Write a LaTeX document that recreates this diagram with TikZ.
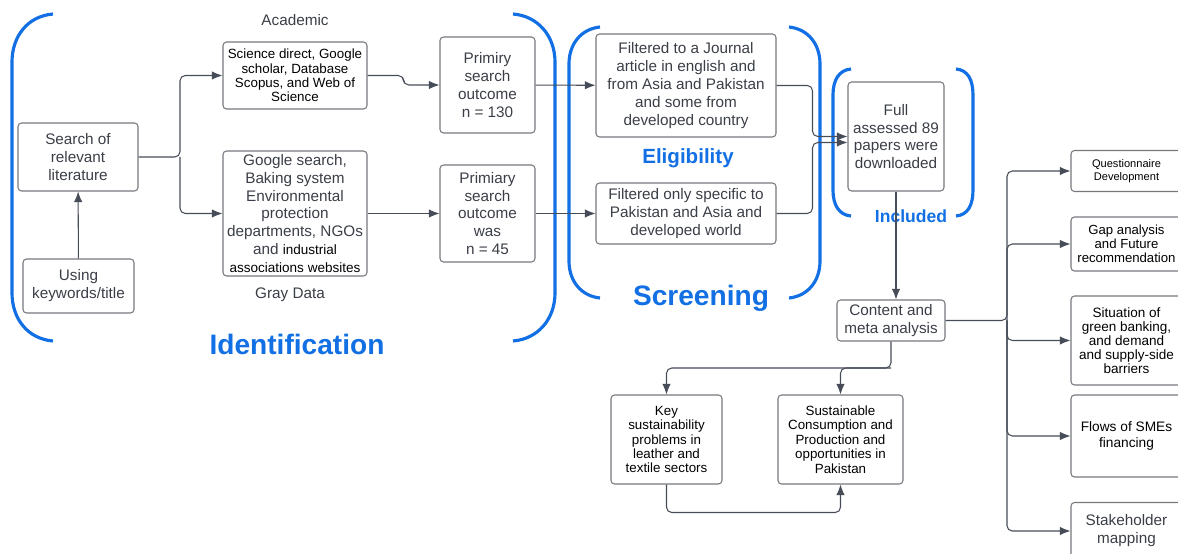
\documentclass[tikz,border=0pt]{standalone}
\usepackage{fontspec}
\setmainfont{Liberation Sans}
\usetikzlibrary{arrows.meta}

\definecolor{lcblue}{RGB}{18,112,228}
\definecolor{txtgray}{RGB}{58,62,70}
\definecolor{edgegray}{RGB}{118,120,126}
\definecolor{arrgray}{RGB}{70,76,88}

\newcommand{\bodyfont}{\fontsize{8.7}{10.2}\selectfont}
\newcommand{\smallfont}{\fontsize{7.6}{8.2}\selectfont}

\begin{document}
\begin{tikzpicture}[x=0.02cm,y=-0.02cm,>=Latex,
  box/.style={draw=edgegray,rounded corners=2pt,line width=0.6pt,align=center,inner sep=1pt,text=txtgray,font=\bodyfont},
  sbox/.style={box,text=black,font=\smallfont},
  link/.style={draw=arrgray,line width=0.6pt,rounded corners=3pt,-{Latex[length=6pt,width=4.8pt]}},
  brk/.style={draw=lcblue,line width=1.8pt},
  stage/.style={text=lcblue,inner sep=0pt},
  side/.style={text=txtgray,font=\bodyfont,inner sep=0pt}]
\useasboundingbox (0,0) rectangle (1178,554);

% blue brackets
\draw[brk] (53,14) .. controls (28,16) and (12,36) .. (12,62) -- (12,293) .. controls (12,319) and (28,339) .. (53,341);
\draw[brk] (513,14) .. controls (538,16) and (555,36) .. (555,62) -- (555,293) .. controls (555,319) and (538,339) .. (513,341);
\draw[brk] (600,27) .. controls (581,29) and (569,44) .. (569,64) -- (569,261) .. controls (569,281) and (581,296) .. (600,298);
\draw[brk] (789,27) .. controls (808,29) and (820,44) .. (820,64) -- (820,261) .. controls (820,281) and (808,296) .. (789,298);
\draw[brk] (851,69) .. controls (839,70) and (833,80) .. (833,95) -- (833,190) .. controls (833,205) and (839,215) .. (851,216);
\draw[brk] (956,69) .. controls (968,70) and (973,80) .. (973,95) -- (973,190) .. controls (973,205) and (968,215) .. (956,216);

% identification
\node[box,minimum width=2.4cm,minimum height=1.36cm] (srch) at (78,157) {Search of\\relevant\\literature};
\node[box,minimum width=2.22cm,minimum height=1.08cm] (kw) at (78.5,286) {Using\\keywords/title};
\node[sbox,minimum width=2.88cm,minimum height=1.34cm] (acad) at (295,75.5) {Science direct, Google\\scholar, Database\\Scopus, and Web of\\Science};
\node[box,minimum width=2.88cm,minimum height=2.5cm] (gray) at (295,213.5) {Google search,\\Baking system\\Environmental\\protection\\departments, NGOs\\and {\color{black}\fontsize{7.7}{9}\selectfont industrial}\\{\color{black}\fontsize{7.7}{9}\selectfont associations websites}};
\node[box,minimum width=1.9cm,minimum height=1.92cm] (out1) at (487.5,85) {Primiry\\search\\outcome\\n = 130};
\node[box,minimum width=1.9cm,minimum height=1.94cm] (out2) at (487.5,213.5) {Primiary\\search\\outcome\\was\\n = 45};
\node[side] (acl) at (295,20) {Academic};
\node[side] (gdl) at (290,295) {Gray Data};
\node[stage,font=\bfseries\fontsize{16}{18}\selectfont] (idl) at (297,344) {Identification};

% screening
\node[box,minimum width=3.6cm,minimum height=2.06cm] (flt1) at (686,85.5) {Filtered to a Journal\\article in english and\\from Asia and Pakistan\\and some from\\developed country};
\node[box,minimum width=3.6cm,minimum height=1.22cm] (flt2) at (686,213.5) {Filtered only specific to\\Pakistan and Asia and\\developed world};
\node[stage,font=\bfseries\fontsize{11.7}{14}\selectfont] (ell) at (688,158) {Eligibility};
\node[stage,font=\bfseries\fontsize{16}{18}\selectfont] (scl) at (701,298) {Screening};

% included
\node[box,minimum width=1.92cm,minimum height=2.18cm] (full) at (896,136.5) {Full\\assessed 89\\papers were\\downloaded};
\node[box,minimum width=2.16cm,minimum height=0.82cm] (meta) at (891,320.5) {Content and\\meta analysis};

% outcomes
\node[sbox,minimum width=2.22cm,minimum height=1.78cm] (key) at (666.5,439.5) {Key\\sustainability\\problems in\\leather and\\textile sectors};
\node[sbox,minimum width=2.5cm,minimum height=1.78cm] (scp) at (840.5,439.5) {Sustainable\\Consumption and\\Production and\\opportunities in\\Pakistan};
\node[sbox,font=\fontsize{6.3}{7}\selectfont,minimum width=2.22cm,minimum height=0.82cm] (ques) at (1126.5,171) {Questionnaire\\Development};
\node[sbox,font=\fontsize{7.5}{8}\selectfont,minimum width=2.22cm,minimum height=1.08cm] (gap) at (1126.5,244) {Gap analysis\\and Future\\recommendation};
\node[sbox,font=\fontsize{7.7}{8}\selectfont,minimum width=2.22cm,minimum height=1.78cm] (sit) at (1126.5,340.5) {Situation of\\green banking,\\and demand\\and supply-side\\barriers};
\node[sbox,font=\fontsize{7.8}{8.6}\selectfont,minimum width=2.22cm,minimum height=1.64cm] (flow) at (1126.5,436) {Flows of SMEs\\financing};
\node[box,minimum width=2.22cm,minimum height=1.14cm] (stk) at (1126.5,531) {Stakeholder\\mapping};

\node[stage,font=\bfseries\fontsize{10}{12}\selectfont] (inl) at (911,216) {Included};

% connectors
\coordinate (split) at (180,157);
\coordinate (bus) at (1007,320.5);
\coordinate (fork) at (891,368);
\draw[link] (kw) -- (srch);
\draw[link] (srch.east) -- (split) |- (acad.west);
\draw[link] (split) |- (gray.west);
\draw[link] (acad.east) -- ++(36,0) |- (out1.west);
\draw[link] (gray) -- (out2);
\draw[link] (out1) -- (flt1);
\draw[link] (out2) -- (flt2);
\draw[link] (flt1.east) -- ++(36,0) |- (full.west);
\draw[link] (flt2.east) -- ++(36,0) |- ([yshift=-0.12cm]full.west);
\draw[link] (full.south) -- (full.south |- meta.north);
\draw[link] (meta.south) -- (fork) -| (key.north);
\draw[link] (fork) -| (scp.north);
\draw[link] (key.south) -- ++(0,28) -| (scp.south);
\draw[link] (meta.east) -- (bus) |- (ques.west);
\draw[link] (bus) |- (gap.west);
\draw[link] (bus) |- (sit.west);
\draw[link] (bus) |- (flow.west);
\draw[link] (bus) |- (stk.west);
\end{tikzpicture}
\end{document}
